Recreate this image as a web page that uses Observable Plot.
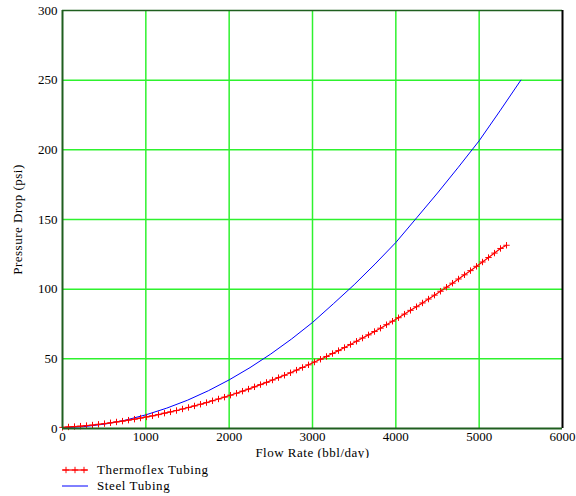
<!DOCTYPE html>
<html><head><meta charset="utf-8">
<script src="https://cdn.jsdelivr.net/npm/d3@7"></script>
<script src="https://cdn.jsdelivr.net/npm/@observablehq/plot@0.6"></script>
<style>
body{margin:0;background:#fff;font-family:"Liberation Serif","Times New Roman",serif;}
#chart svg{display:block;}
g[aria-label="x-axis label"] text, g[aria-label="y-axis label"] text{letter-spacing:0.5px;}
.legend{margin-top:4px;font-size:13px;letter-spacing:0.6px;}
.row{display:flex;align-items:center;height:16px;}
.row svg{margin-left:62px;margin-right:9px;}
</style></head><body>
<div id="chart"></div>
<div class="legend" id="legend"></div>
<script>
const xTicks = [0, 1000, 2000, 3000, 4000, 5000, 6000];
const yTicks = [0, 50, 100, 150, 200, 250, 300];
const seriesNames = ["Thermoflex Tubing", "Steel Tubing"];

const thermoFlow = [0,72,144,216,288,360,432,504,576,648,720,792,864,936,1008,1080,1152,1224,1296,1368,1440,1512,1584,1656,1728,1800,1872,1944,2016,2088,2160,2232,2304,2376,2448,2520,2592,2664,2736,2808,2880,2952,3024,3096,3168,3240,3312,3384,3456,3528,3600,3672,3744,3816,3888,3960,4032,4104,4176,4248,4320,4392,4464,4536,4608,4680,4752,4824,4896,4968,5040,5112,5184,5256,5328];
const thermoDrop = [0.8,1.1,1.4,1.7,2.1,2.5,3.0,3.5,4.1,4.7,5.3,6.0,6.7,7.5,8.3,9.1,10.0,11.0,11.9,12.9,14.0,15.1,16.2,17.4,18.6,19.9,21.2,22.5,23.9,25.3,26.8,28.3,29.9,31.5,33.1,34.8,36.5,38.2,40.0,41.9,43.8,45.7,47.7,49.7,51.7,53.8,55.9,58.1,60.3,62.6,64.9,67.2,69.6,72.0,74.5,77.0,79.5,82.1,84.8,87.4,90.1,92.9,95.7,98.5,101.4,104.3,107.3,110.3,113.3,116.4,119.5,122.7,125.9,129.2,131.5];

const steelFlow = [0,250,500,750,1000,1250,1500,1750,2000,2250,2500,2750,3000,3250,3500,3750,4000,4250,4500,4750,5000,5250,5500];
const steelDrop = [0.5,1.3,3.1,5.9,9.8,14.6,20.3,27.1,34.9,43.7,53.5,64.3,76.1,89.5,103.2,118,133.5,151.2,169,187.5,206.5,228,250];

const thermo = thermoFlow.map((x, i) => ({x, y: thermoDrop[i]}));
const steel = steelFlow.map((x, i) => ({x, y: steelDrop[i]}));

const thinPlus = {
  draw(ctx, size) {
    const r = Math.sqrt(size / Math.PI);
    ctx.moveTo(-r, 0); ctx.lineTo(r, 0);
    ctx.moveTo(0, -r); ctx.lineTo(0, r);
  }
};

const gridColor = "#2ef22e";
const chart = Plot.plot({
  width: 576, height: 458,
  marginLeft: 62, marginRight: 14, marginTop: 10, marginBottom: 30,
  style: {fontFamily: "'Liberation Serif', 'Times New Roman', serif", fontSize: "13px", background: "#fff", color: "#000"},
  x: {domain: [0, 6000], ticks: xTicks, tickSize: 0, tickPadding: 3, tickFormat: d => String(d),
      label: "Flow Rate (bbl/day)", labelAnchor: "center", labelOffset: 28, labelArrow: "none"},
  y: {domain: [0, 300], ticks: yTicks, tickSize: 0, tickPadding: 5, tickFormat: d => String(d),
      label: "Pressure Drop (psi)", labelAnchor: "center", labelOffset: 50, labelArrow: "none"},
  marks: [
    Plot.ruleX(xTicks.slice(1, -1), {stroke: gridColor, strokeWidth: 1.5}),
    Plot.ruleY(yTicks.slice(1, -1), {stroke: gridColor, strokeWidth: 1.5}),
    Plot.ruleY([300], {stroke: "#1f5f1f", strokeWidth: 1.5}),
    Plot.ruleX([6000], {stroke: "#000", strokeWidth: 2}),
    Plot.line(steel, {x: "x", y: "y", stroke: "#0000ff", strokeWidth: 1}),
    Plot.line(thermo, {x: "x", y: "y", stroke: "#ff0000", strokeWidth: 1.2}),
    Plot.dot(thermo, {x: "x", y: "y", symbol: thinPlus, r: 3.2, stroke: "#ff0000", strokeWidth: 1, fill: "none"}),
    Plot.ruleX([0], {stroke: "#1f5f1f", strokeWidth: 2}),
    Plot.ruleY([0], {stroke: "#1f5f1f", strokeWidth: 2})
  ]
});
document.getElementById("chart").appendChild(chart);

const legend = document.getElementById("legend");
legend.innerHTML = `
<div class="row"><svg width="26" height="10"><line x1="0" y1="5" x2="26" y2="5" stroke="#ff0000" stroke-width="1.2"/>
${[4,13,22].map(c => `<path d="M${c-3.2},5H${c+3.2}M${c},1.8V8.2" stroke="#ff0000" fill="none"/>`).join("")}</svg><span>${seriesNames[0]}</span></div>
<div class="row"><svg width="26" height="10"><line x1="0" y1="5" x2="26" y2="5" stroke="#0000ff" stroke-width="1"/></svg><span>${seriesNames[1]}</span></div>`;
</script></body></html>
